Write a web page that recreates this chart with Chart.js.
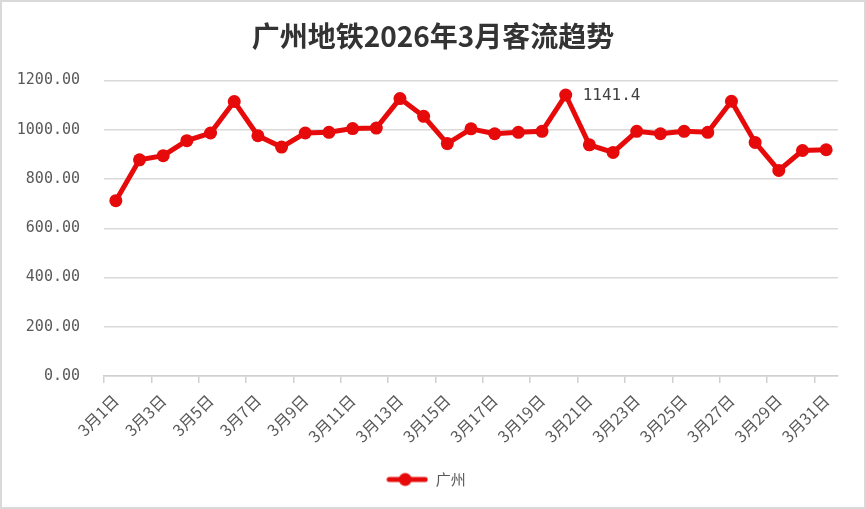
<!DOCTYPE html>
<html>
<head>
<meta charset="utf-8">
<script src="https://cdn.jsdelivr.net/npm/chart.js@4.4.1/dist/chart.umd.min.js"></script>
<style>
html, body { margin: 0; padding: 0; background: #fff; }
#wrap { width: 866px; height: 509px; box-sizing: border-box; border: 2px solid #d9d9d9; background: #fff; }
</style>
</head>
<body>
<div id="wrap"><canvas id="flowChart" width="862" height="505"></canvas></div>
<script>
// 广州地铁 3月 每日客流（万人次）
const days = ['3月1日', '3月2日', '3月3日', '3月4日', '3月5日', '3月6日', '3月7日', '3月8日', '3月9日', '3月10日',
    '3月11日', '3月12日', '3月13日', '3月14日', '3月15日', '3月16日', '3月17日', '3月18日', '3月19日', '3月20日',
    '3月21日', '3月22日', '3月23日', '3月24日', '3月25日', '3月26日', '3月27日', '3月28日', '3月29日', '3月30日', '3月31日'];
const flow = [712, 878, 895, 956, 987, 1115, 976, 930, 987, 990,
    1005, 1007, 1127, 1055, 944, 1004, 984, 990, 994, 1141.4,
    939, 908, 994, 984, 994, 990, 1116, 949, 835, 916, 919];
const yTicks = [0, 200, 400, 600, 800, 1000, 1200];

const red = '#e60a0a';
const gray = '#595959';

// 图例图标：线 + 圆点
const legendIcon = document.createElement('canvas');
legendIcon.width = 42;
legendIcon.height = 16;
const g = legendIcon.getContext('2d');
g.strokeStyle = red;
g.lineWidth = 5;
g.lineCap = 'round';
g.beginPath();
g.moveTo(3, 8);
g.lineTo(39, 8);
g.stroke();
g.fillStyle = red;
g.beginPath();
g.arc(19, 8, 6.5, 0, Math.PI * 2);
g.fill();

// 最高点标注 + 标题居中于整张画布
const peakLabel = {
    id: 'peakLabel',
    afterLayout(chart) {
        chart.titleBlock.left = 0;
        chart.titleBlock.right = chart.width;
    },
    afterDatasetsDraw(chart) {
        const i = flow.indexOf(Math.max(...flow));
        const pt = chart.getDatasetMeta(0).data[i];
        const ctx = chart.ctx;
        ctx.save();
        ctx.font = '16px "DejaVu Sans Mono"';
        ctx.fillStyle = '#404040';
        ctx.textBaseline = 'middle';
        ctx.fillText(flow[i].toFixed(1), pt.x + 17, pt.y + 1);
        ctx.restore();
    }
};

const flowCtx = document.getElementById('flowChart').getContext('2d');
const flowChart = new Chart(flowCtx, {
    type: 'line',
    data: {
        labels: days,
        datasets: [{
            label: '广州',
            data: flow,
            borderColor: red,
            backgroundColor: red,
            borderWidth: 5,
            pointRadius: 6.5,
            pointBackgroundColor: red,
            pointBorderWidth: 0,
            tension: 0
        }]
    },
    options: {
        responsive: false,
        animation: false,
        layout: {
            padding: { left: 12, right: 26, top: 8, bottom: 10 }
        },
        plugins: {
            title: {
                display: true,
                text: '广州地铁2026年3月客流趋势',
                color: '#333',
                font: { family: '"Noto Sans CJK SC"', size: 28, weight: 'bold' },
                padding: { top: 10, bottom: 27 }
            },
            legend: {
                position: 'bottom',
                labels: {
                    usePointStyle: true,
                    pointStyle: legendIcon,
                    pointStyleWidth: 42,
                    color: gray,
                    font: { family: '"Noto Sans CJK SC"', size: 15 },
                    padding: 14
                }
            },
            tooltip: { enabled: false }
        },
        scales: {
            x: {
                offset: true,
                afterFit: (axis) => { axis.height += 4; },
                grid: {
                    offset: true,
                    drawOnChartArea: false,
                    drawTicks: true,
                    tickLength: 7,
                    lineWidth: 1.5,
                    color: (c) => (c.index % 2 === 0 ? '#d0d0d0' : 'rgba(0,0,0,0)')
                },
                border: { display: true, color: '#d0d0d0', width: 1.5 },
                ticks: {
                    autoSkip: false,
                    minRotation: 45,
                    maxRotation: 45,
                    padding: 8,
                    color: gray,
                    font: { family: '"Noto Sans CJK SC"', size: 16 },
                    callback: function (v, i) {
                        return i % 2 === 0 ? this.getLabelForValue(v) : '';
                    }
                }
            },
            y: {
                min: yTicks[0],
                max: yTicks[yTicks.length - 1],
                afterBuildTicks: (axis) => {
                    axis.ticks = yTicks.map((v) => ({ value: v }));
                },
                afterFit: (axis) => { axis.width = 90; },
                grid: { color: '#d9d9d9', lineWidth: 1.5, drawTicks: false },
                border: { display: false },
                ticks: {
                    padding: 24,
                    color: gray,
                    font: { family: '"DejaVu Sans Mono"', size: 15 },
                    callback: (v) => Number(v).toFixed(2)
                }
            }
        }
    },
    plugins: [peakLabel]
});
</script>
</body>
</html>
